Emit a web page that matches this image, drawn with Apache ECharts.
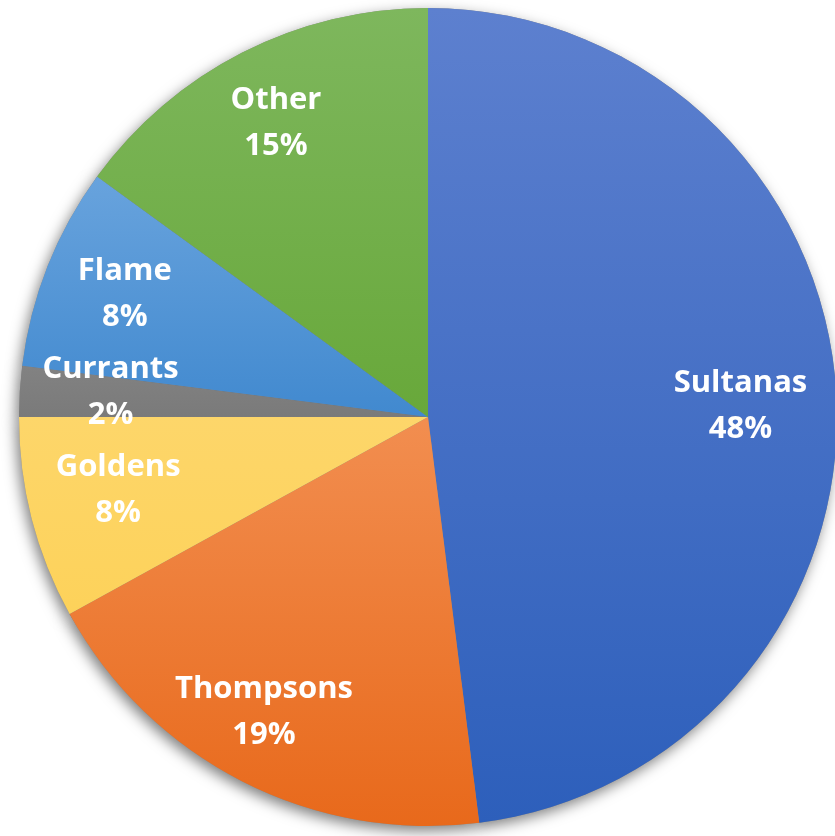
<!DOCTYPE html>
<html>
<head>
<meta charset="utf-8">
<script src="https://cdn.jsdelivr.net/npm/echarts@6/dist/echarts.min.js"></script>
<style>
  html, body { margin: 0; padding: 0; background: #ffffff; }
  #chart { width: 835px; height: 836px; }
</style>
</head>
<body>
<div id="chart"></div>
<script>
// Raisin varieties share (percent)
const categories = ['Sultanas', 'Thompsons', 'Goldens', 'Currants', 'Flame', 'Other'];
const shares = [48, 19, 8, 2, 8, 15];

// Slice fills: lighter top, darker bottom
const topColors = ['#5d80cf', '#f28e50', '#fdd66a', '#828282', '#68a3dd', '#7eb75d'];
const bottomColors = ['#2d5fbb', '#e8691b', '#fdd25a', '#7a7a7a', '#4189cf', '#68a83a'];

// Small per-label nudges (px) for a best-fit look
const labelNudge = [[-13, 10], [-16, 5], [6, -8], [8, -4], [0, -3], [-4, -3]];

const CX = 428, CY = 417, R = 409;

const chart = echarts.init(document.getElementById('chart'), null, { renderer: 'canvas' });

const pieData = categories.map((name, i) => ({
  name,
  value: shares[i],
  itemStyle: {
    color: new echarts.graphic.LinearGradient(0, 0, 0, 1, [
      { offset: 0, color: topColors[i] },
      { offset: 1, color: bottomColors[i] }
    ])
  }
}));

const plainData = categories.map((name, i) => ({ name, value: shares[i] }));

const labelData = categories.map((name, i) => ({
  name,
  value: shares[i],
  label: { offset: labelNudge[i] }
}));

chart.setOption({
  animation: false,
  backgroundColor: '#ffffff',
  series: [
    {
      // soft drop shadow under the whole pie
      type: 'pie',
      z: 1,
      silent: true,
      center: [CX, CY],
      radius: [0, R],
      startAngle: 90,
      data: plainData,
      label: { show: false },
      labelLine: { show: false },
      itemStyle: {
        color: '#888888',
        shadowColor: 'rgba(0,0,0,0.5)',
        shadowBlur: 14,
        shadowOffsetX: -3,
        shadowOffsetY: 5
      }
    },
    {
      type: 'pie',
      z: 2,
      silent: true,
      center: [CX, CY],
      radius: [0, R],
      startAngle: 90,
      data: pieData,
      label: { show: false },
      labelLine: { show: false },
      itemStyle: { borderWidth: 0 }
    },
    {
      // transparent ring that places the labels at ~0.79 R
      type: 'pie',
      z: 3,
      silent: true,
      center: [CX, CY],
      radius: [R * 0.58, R],
      startAngle: 90,
      data: labelData,
      itemStyle: { color: 'rgba(0,0,0,0)' },
      labelLine: { show: false },
      label: {
        show: true,
        position: 'inside',
        formatter: p => p.name + '\n' + p.value + '%',
        color: '#ffffff',
        fontFamily: 'Open Sans',
        fontWeight: 'bold',
        fontSize: 31,
        lineHeight: 46
      }
    }
  ]
});
</script>
</body>
</html>
